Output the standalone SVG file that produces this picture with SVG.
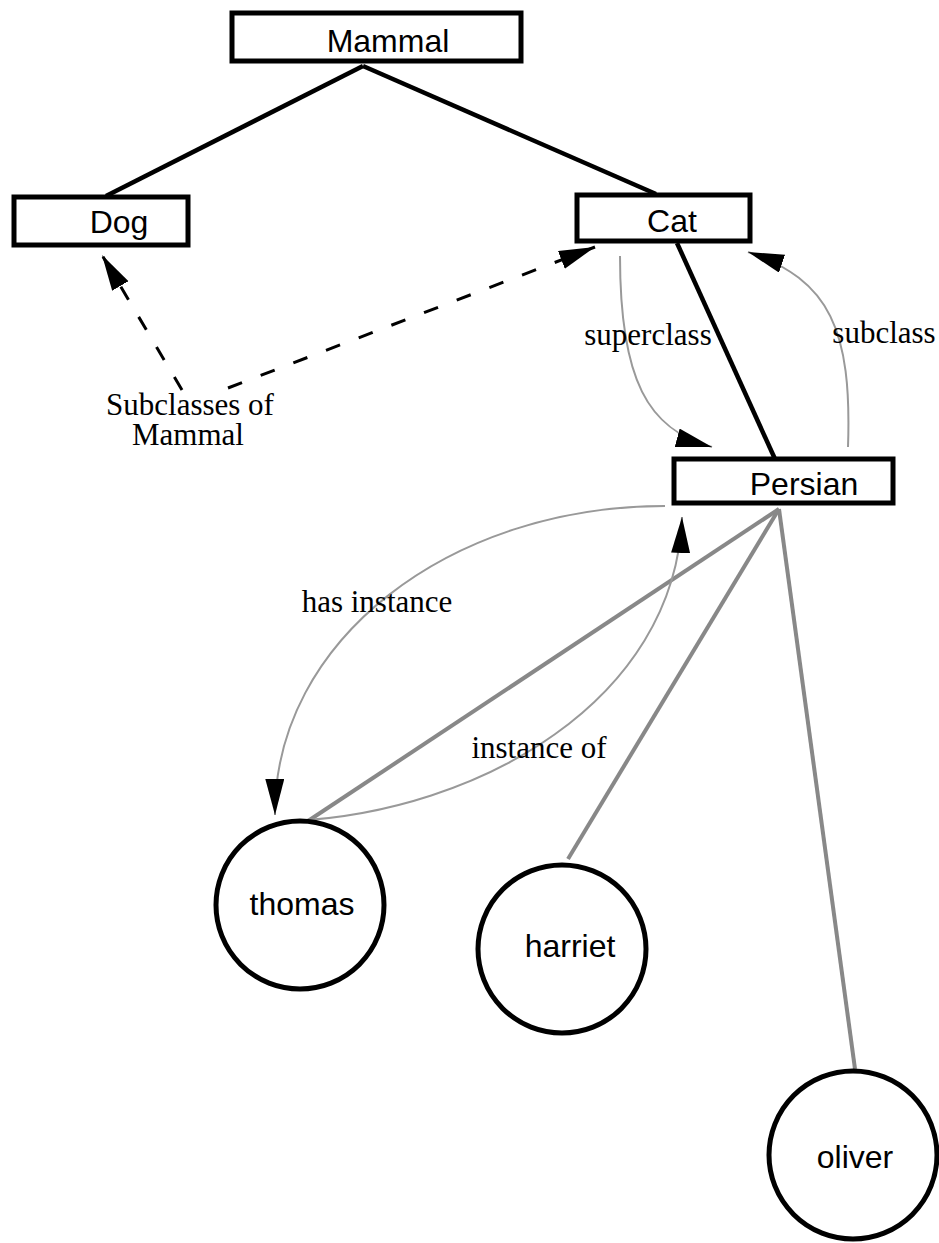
<svg xmlns="http://www.w3.org/2000/svg" width="939" height="1243" viewBox="0 0 939 1243">
<style>
.box{fill:#fff;stroke:#000;stroke-width:5}
.circ{fill:#fff;stroke:#000;stroke-width:5}
.ntext{font-family:"Liberation Sans",Arial,sans-serif;font-size:32px;fill:#000;text-anchor:middle}
.ltext{font-family:"Liberation Serif","Times New Roman",serif;font-size:31px;fill:#000;text-anchor:middle}
.tree{stroke:#000;stroke-width:4.5;fill:none}
.inst{stroke:#888;stroke-width:4;fill:none}
.rel{stroke:#999;stroke-width:2;fill:none}
.dash{stroke:#000;stroke-width:3;fill:none;stroke-dasharray:15 20}
</style>
<defs>
<marker id="arr" markerUnits="userSpaceOnUse" markerWidth="38" markerHeight="20" refX="36" refY="9.5" orient="auto">
<path d="M0,0 L36,9.5 L0,19 z" fill="#000"/>
</marker>
</defs>
<g id="connectors">
<line class="tree" x1="363" y1="66" x2="106" y2="196"/>
<line class="tree" x1="363" y1="66" x2="656" y2="194"/>
<line class="tree" x1="677" y1="243" x2="775" y2="459"/>
<line class="inst" x1="779" y1="509" x2="308" y2="821"/>
<line class="inst" x1="779" y1="509" x2="568" y2="859"/>
<line class="inst" x1="779" y1="509" x2="855" y2="1069"/>
<path class="rel" d="M620,256 C620,380 648,430 712,447" marker-end="url(#arr)"/>
<path class="rel" d="M848,447 C852,330 830,280 748,252" marker-end="url(#arr)"/>
<path class="rel" d="M665,506 C450,506 274,640 275,815" marker-end="url(#arr)"/>
<path class="rel" d="M292,821 C480,812 675,700 682,517" marker-end="url(#arr)"/>
<line class="dash" x1="182" y1="390" x2="102" y2="255" marker-end="url(#arr)"/>
<line class="dash" x1="228" y1="388" x2="595" y2="247" marker-end="url(#arr)"/>
<text class="ltext" x="190" y="415">Subclasses of</text>
<text class="ltext" x="188" y="445">Mammal</text>
<text class="ltext" x="648" y="345">superclass</text>
<text class="ltext" x="884" y="343">subclass</text>
<text class="ltext" x="377" y="612">has instance</text>
<text class="ltext" x="539" y="758">instance of</text>
</g>
<g id="mammal">
<rect class="box" x="232" y="13" width="289" height="48"/>
<text class="ntext" x="388" y="52">Mammal</text>
</g>
<g id="dog">
<rect class="box" x="14" y="197" width="174" height="48"/>
<text class="ntext" x="119" y="233">Dog</text>
</g>
<g id="cat">
<rect class="box" x="577" y="195" width="173" height="46"/>
<text class="ntext" x="672" y="232">Cat</text>
</g>
<g id="persian">
<rect class="box" x="674" y="459" width="219" height="44"/>
<text class="ntext" x="804" y="495">Persian</text>
</g>
<g id="thomas">
<circle class="circ" cx="300" cy="905" r="84"/>
<text class="ntext" x="302" y="915">thomas</text>
</g>
<g id="harriet">
<circle class="circ" cx="562" cy="949" r="84"/>
<text class="ntext" x="570" y="957">harriet</text>
</g>
<g id="oliver">
<circle class="circ" cx="853" cy="1155" r="84"/>
<text class="ntext" x="855" y="1168">oliver</text>
</g>
</svg>
